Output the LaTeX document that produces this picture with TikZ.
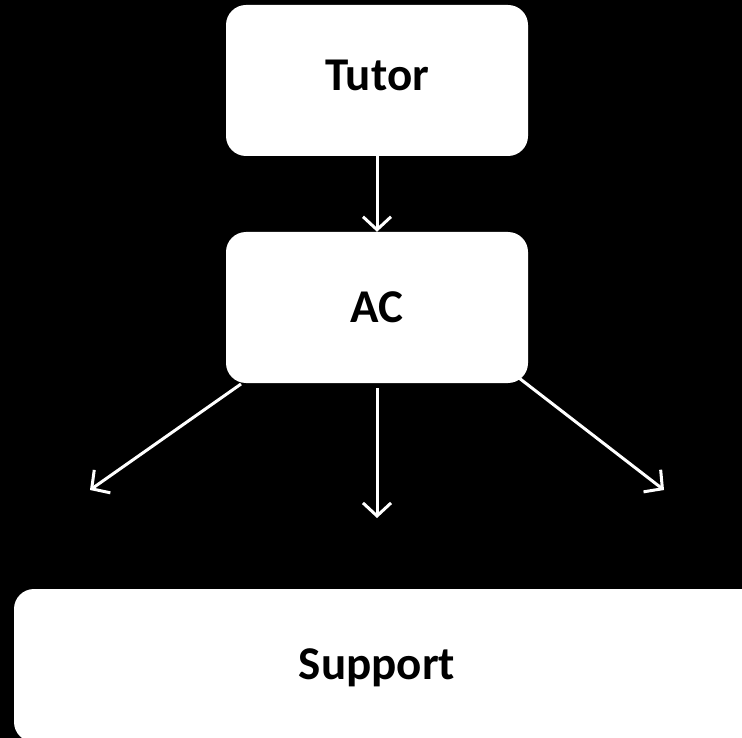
\documentclass[tikz,border=0pt]{standalone}
\usepackage{fontspec}
\setmainfont{Carlito}
\usetikzlibrary{arrows.meta}
\begin{document}
\begin{tikzpicture}[x=1pt,y=-1pt,
  boxstyle/.style={draw=none,fill=white,rounded corners=20pt,inner sep=0pt,
    minimum width=302pt,minimum height=151pt,
    font=\fontsize{47}{50}\selectfont\bfseries,text=black},
  labelstyle/.style={inner sep=0pt,font=\fontsize{47}{50}\selectfont\bfseries,text=black},
  arrowstyle/.style={draw=white,line width=3pt,
    -{Straight Barb[length=13pt,width=28pt,line width=3pt]}}]
\fill[black] (0,0) rectangle (742,738);
\useasboundingbox (0,0) rectangle (742,738);
\clip (0,0) rectangle (742,738);
\node[boxstyle,text depth=10pt] (tutor) at (377,80.5) {Tutor};
\node[boxstyle] (ac) at (377,307.5) {AC};
\fill[white,rounded corners=20pt] (14,589) rectangle (780,742);
\node[labelstyle] (support) at (377,668) {Support};
\coordinate (l0) at (241,384);
\coordinate (l1) at (90,490);
\coordinate (m0) at (377,388);
\coordinate (m1) at (377,518);
\coordinate (r0) at (519,378);
\coordinate (r1) at (664,490);
\draw[arrowstyle] (tutor.south) -- (ac.north);
\draw[arrowstyle] (l0) -- (l1);
\draw[arrowstyle] (m0) -- (m1);
\draw[arrowstyle] (r0) -- (r1);
\end{tikzpicture}
\end{document}
